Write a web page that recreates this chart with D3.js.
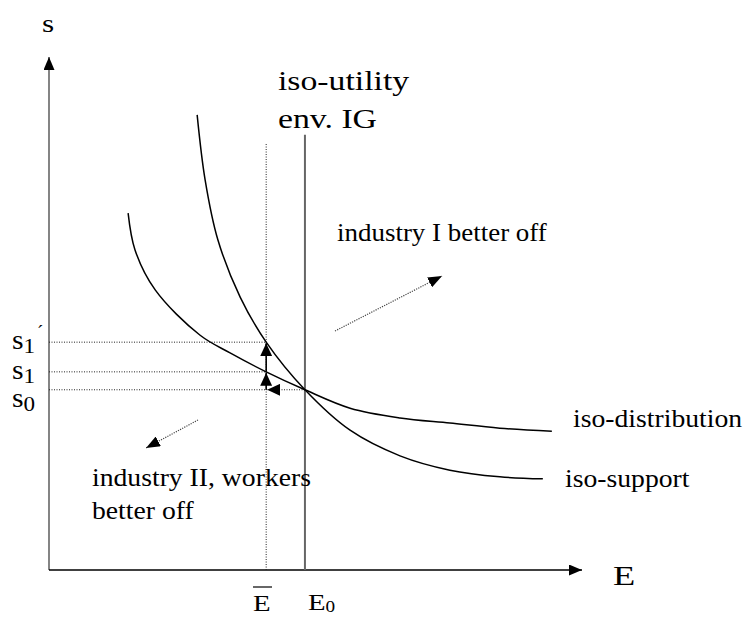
<!DOCTYPE html>
<html><head><meta charset="utf-8">
<script src="https://cdn.jsdelivr.net/npm/d3@7/dist/d3.min.js"></script>
<style>body{margin:0;background:#fff}text{font-family:"Liberation Serif","Times New Roman",serif;fill:#000}</style>
</head><body>
<svg id="c" width="755" height="618"></svg>
<script>
// Data (E, s) in chart units
const isoSupportE = [27.9,29.4,31.8,36.0,40.9,48.2,56.7,66.1,75.5,84.9,93.0];
const isoSupportS = [88.9,76.2,64.5,53.3,44.5,35.2,27.3,22.3,19.5,18.2,17.8];
const isoDistE = [14.9,16.2,20.0,28.4,34.1,40.9,48.2,56.7,66.1,75.5,84.9,94.7];
const isoDistS = [69.7,62.5,54.7,45.9,42.4,38.7,35.2,31.6,29.7,28.7,27.7,27.1];
const E0 = 48.2, Ebar = 40.9;
const s0 = 35.2, s1 = 38.7, s1p = 44.5;
const curveLabels = ["iso-distribution","iso-support"];

const svg = d3.select("#c");
const x = d3.scaleLinear().domain([0,100]).range([49,580]);
const y = d3.scaleLinear().domain([0,100]).range([570,58]);

const defs = svg.append("defs");
function marker(id, w, h){
  defs.append("marker").attr("id",id).attr("viewBox",`0 0 ${w} ${h}`)
    .attr("refX",w).attr("refY",h/2).attr("markerWidth",w).attr("markerHeight",h)
    .attr("markerUnits","userSpaceOnUse").attr("orient","auto")
    .append("path").attr("d",`M0,0L${w},${h/2}L0,${h}Z`).attr("fill","#000");
}
marker("ax",13,11);
marker("tri",13,12);
marker("dot",14,11);

// axes
svg.append("line").attr("x1",x(0)).attr("y1",y(0)).attr("x2",x(0)).attr("y2",y(100)-1)
  .attr("stroke","#666").attr("stroke-width",1.6).attr("marker-end","url(#ax)");
svg.append("line").attr("x1",x(0)).attr("y1",y(0)).attr("x2",x(100)+2).attr("y2",y(0))
  .attr("stroke","#000").attr("stroke-width",1.4).attr("marker-end","url(#ax)");

// E0 vertical and Ebar dotted
svg.append("line").attr("x1",x(E0)).attr("x2",x(E0)).attr("y1",y(85)).attr("y2",y(0))
  .attr("stroke","#666").attr("stroke-width",2);
svg.append("line").attr("x1",x(Ebar)).attr("x2",x(Ebar)).attr("y1",y(83.2)).attr("y2",y(0))
  .attr("stroke","#222").attr("stroke-width",1).attr("stroke-dasharray","1,1.5");

// horizontal dotted
[[s1p,Ebar],[s1,Ebar],[s0,E0]].forEach(([sv,ev])=>{
  svg.append("line").attr("x1",x(0)).attr("x2",x(ev)).attr("y1",y(sv)).attr("y2",y(sv))
    .attr("stroke","#222").attr("stroke-width",1).attr("stroke-dasharray","1,1.5");
});

// curves
const line = d3.line().x(d=>x(d[0])).y(d=>y(d[1])).curve(d3.curveCatmullRom.alpha(0.5));
svg.append("path").datum(isoSupportE.map((e,i)=>[e,isoSupportS[i]])).attr("d",line)
  .attr("fill","none").attr("stroke","#000").attr("stroke-width",1.5);
svg.append("path").datum(isoDistE.map((e,i)=>[e,isoDistS[i]])).attr("d",line)
  .attr("fill","none").attr("stroke","#000").attr("stroke-width",1.5);

// solid arrows at intersection
svg.append("line").attr("x1",x(Ebar)).attr("x2",x(Ebar)).attr("y1",y(s0)).attr("y2",y(s1)+1)
  .attr("stroke","#000").attr("stroke-width",1.6).attr("marker-end","url(#tri)");
svg.append("line").attr("x1",x(Ebar)).attr("x2",x(Ebar)).attr("y1",y(s1)).attr("y2",y(s1p)+1)
  .attr("stroke","#000").attr("stroke-width",1.6).attr("marker-end","url(#tri)");
svg.append("line").attr("x1",x(Ebar)+14).attr("x2",x(Ebar)+1).attr("y1",y(s0)).attr("y2",y(s0))
  .attr("stroke","none").attr("stroke-width",1).attr("marker-end","url(#tri)");

// dotted direction arrows
svg.append("line").attr("x1",335).attr("y1",331).attr("x2",442).attr("y2",276)
  .attr("stroke","#444").attr("stroke-width",1.2).attr("stroke-dasharray","1.2,1.2").attr("marker-end","url(#dot)");
svg.append("line").attr("x1",198).attr("y1",420).attr("x2",146).attr("y2",448)
  .attr("stroke","#444").attr("stroke-width",1.2).attr("stroke-dasharray","1.2,1.2").attr("marker-end","url(#dot)");

// texts (reference lettering is horizontally stretched)
function txt(t,xx,yy,fs,sx){
  return svg.append("text").attr("transform",`translate(${xx},${yy}) scale(${sx},1)`)
    .attr("font-size",fs).text(t);
}
txt("s",42,32,25,1.25);
txt("E",613,585,28,1.3);
txt("iso-utility",278,90,27,1.25);
txt("env. IG",278,128,27,1.25);
txt("industry I better off",337,241,24.5,1.1);
txt(curveLabels[0],573,427,24.5,1.13);
txt(curveLabels[1],565,487,24.5,1.13);
txt("industry II, workers",92,486,24.5,1.13);
txt("better off",92,519,24.5,1.13);

// s tick labels
function sLab(yy,sub,prime){
  const t = svg.append("text").attr("transform",`translate(12,${yy}) scale(1.1,1)`).attr("font-size",27);
  t.append("tspan").text("s");
  t.append("tspan").attr("font-size",21).attr("dy",4).text(sub);
  if(prime) svg.append("text").attr("x",37).attr("y",yy-11).attr("font-size",19).text("´");
}
sLab(y(s1p)+7,"1",true);
sLab(y(s1)+7,"1",false);
sLab(y(s0)+17,"0",false);

// E labels
txt("E",253,611,24,1.2);
svg.append("line").attr("x1",253).attr("x2",272).attr("y1",587).attr("y2",587).attr("stroke","#000").attr("stroke-width",1.2);
const e0 = svg.append("text").attr("transform","translate(308,610) scale(1.2,1)").attr("font-size",24);
e0.append("tspan").text("E");
e0.append("tspan").attr("font-size",16).attr("dy",2).text("0");
</script>
</body></html>
